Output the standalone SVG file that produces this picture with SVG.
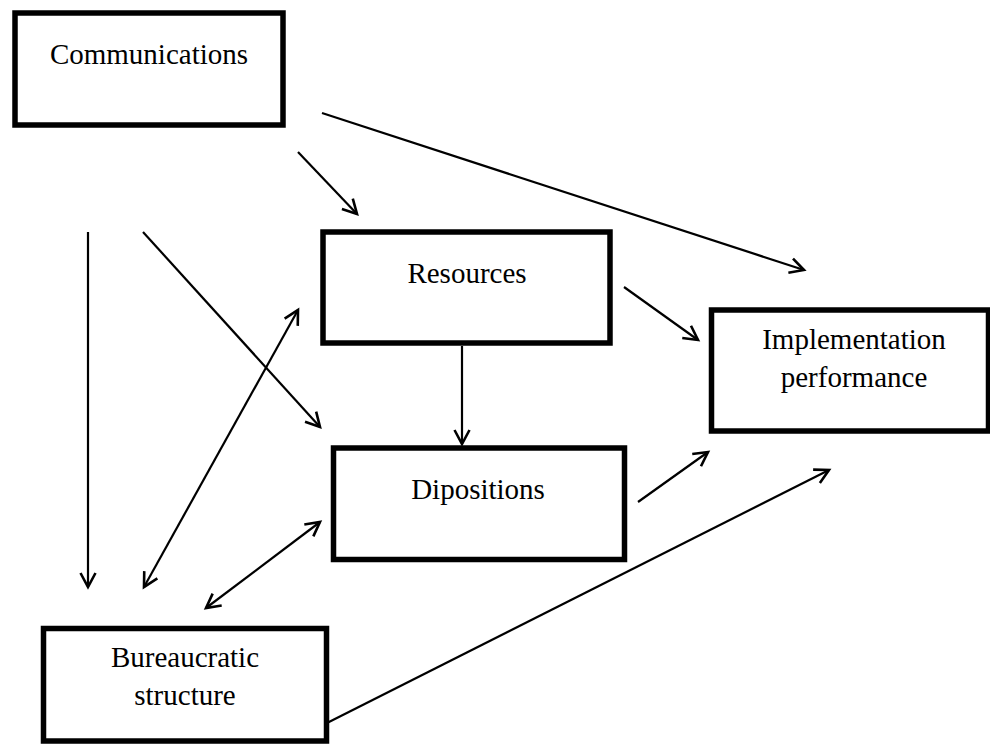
<svg xmlns="http://www.w3.org/2000/svg" width="990" height="745" viewBox="0 0 990 745">
  <style>
    .box { fill: #fff; stroke: #000; stroke-width: 5.5; }
    .lbl { font-family: "Liberation Serif", "Times New Roman", "DejaVu Serif", serif; font-size: 29px; font-weight: normal; fill: #000; text-anchor: middle; }
    .ln { stroke: #000; stroke-width: 2.2; fill: none; }
    .one { marker-end: url(#ah); }
    .two { marker-start: url(#ah); marker-end: url(#ah); }
  </style>
  <defs>
    <marker id="ah" markerUnits="userSpaceOnUse" markerWidth="40" markerHeight="40" viewBox="-20 -20 40 40" refX="0" refY="0" orient="auto-start-reverse" overflow="visible">
      <path d="M-14,-7.5 L0,0 L-14,7.5" fill="none" stroke="#000" stroke-width="2.6" stroke-linejoin="miter"/>
    </marker>
  </defs>
  <rect width="990" height="745" fill="#fff"/>

  <g id="connectors">
    <line class="ln one" x1="322" y1="113" x2="804" y2="270"/>
    <line class="ln one" x1="298" y1="152" x2="357" y2="214"/>
    <line class="ln one" x1="88" y1="232" x2="88" y2="587"/>
    <line class="ln one" x1="143" y1="232" x2="320" y2="427"/>
    <line class="ln two" x1="144" y1="587" x2="298" y2="310"/>
    <line class="ln two" x1="206" y1="608" x2="320" y2="522"/>
    <line class="ln one" x1="462" y1="346" x2="462" y2="444"/>
    <line class="ln one" x1="624" y1="287" x2="698" y2="340"/>
    <line class="ln one" x1="638" y1="502" x2="708" y2="452"/>
    <line class="ln one" x1="323" y1="725" x2="829" y2="470"/>
  </g>

  <g id="communications">
    <rect class="box" x="15" y="13" width="268" height="112"/>
    <text class="lbl" x="149" y="64">Communications</text>
  </g>
  <g id="resources">
    <rect class="box" x="323" y="232" width="287" height="111"/>
    <text class="lbl" x="467" y="283">Resources</text>
  </g>
  <g id="implementation">
    <rect class="box" x="711.5" y="310" width="277" height="121"/>
    <text class="lbl" x="854" y="349">Implementation</text>
    <text class="lbl" x="854" y="387">performance</text>
  </g>
  <g id="dipositions">
    <rect class="box" x="333.5" y="448" width="291" height="111.5"/>
    <text class="lbl" x="478" y="499">Dipositions</text>
  </g>
  <g id="bureaucratic">
    <rect class="box" x="43.5" y="628.5" width="283" height="112.5"/>
    <text class="lbl" x="185" y="667">Bureaucratic</text>
    <text class="lbl" x="185" y="705">structure</text>
  </g>
</svg>
